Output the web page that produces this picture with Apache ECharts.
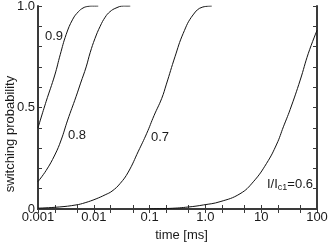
<!DOCTYPE html>
<html>
<head>
<meta charset="utf-8">
<script src="https://cdn.jsdelivr.net/npm/echarts@6/dist/echarts.min.js"></script>
<style>
html,body{margin:0;padding:0;background:#fff;}
#c{width:333px;height:244px;}
</style>
</head>
<body>
<div id="c"></div>
<script>
// ---- data ----
const t09 = [0.001, 0.0014, 0.002, 0.0025, 0.0032, 0.0042, 0.0053, 0.0064, 0.0078, 0.0095, 0.012];
const p09 = [0.40, 0.53, 0.66, 0.76, 0.86, 0.935, 0.972, 0.99, 0.998, 1.0, 1.0];

const t08 = [0.001, 0.0014, 0.002, 0.0026, 0.0034, 0.0048, 0.0058, 0.0073, 0.0086, 0.0105, 0.013, 0.016, 0.0195, 0.025, 0.034, 0.045];
const p08 = [0.135, 0.19, 0.266, 0.34, 0.438, 0.553, 0.62, 0.70, 0.77, 0.84, 0.90, 0.945, 0.972, 0.99, 1.0, 1.0];

const t07 = [0.001, 0.0024, 0.0048, 0.007, 0.011, 0.016, 0.0212, 0.0295, 0.0415, 0.063, 0.089, 0.12, 0.165, 0.2, 0.285, 0.4, 0.6, 0.9, 1.3];
const p07 = [0.004, 0.01, 0.02, 0.031, 0.05, 0.07, 0.088, 0.125, 0.182, 0.285, 0.373, 0.46, 0.545, 0.615, 0.75, 0.865, 0.956, 0.995, 1.0];

const t06 = [0.1, 0.23, 0.5, 0.92, 1.83, 4.17, 7.22, 12.5, 19, 25, 33, 50, 70, 100];
const p06 = [0.001, 0.003, 0.01, 0.02, 0.036, 0.075, 0.134, 0.225, 0.32, 0.405, 0.49, 0.635, 0.767, 0.88];

const curveNames = ['0.9', '0.8', '0.7', 'I/I{sub|c1}=0.6'];
const xTickLabels = {0.001: '0.001', 0.01: '0.01', 0.1: '0.1', 1: '1.0', 10: '10', 100: '100'};
const xLabelValues = [0.001, 0.01, 0.1, 1, 10, 100];
const xMinorValues = [0.001,0.002,0.005,0.01,0.02,0.05,0.1,0.2,0.5,1,2,5,10,20,50,100];
const yTickLabels = {0: '0', 0.5: '0.5', 1: '1.0'};

// label anchor positions (data space)
const labelAnchors = [[0.00194, 0.852], [0.0050, 0.36], [0.1536, 0.355], [32.8, 0.123]];

const FONT = 'Liberation Sans, Arial, sans-serif';
const TXT = '#1a1a1a';

function pairs(t, p) { return t.map((v, i) => [v, p[i]]); }
const curves = [pairs(t09, p09), pairs(t08, p08), pairs(t07, p07), pairs(t06, p06)];

const chart = echarts.init(document.getElementById('c'), null, {renderer: 'canvas'});

const axisLine = {show: true, lineStyle: {color: '#3a3a3a', width: 2}};
const tick = {show: true, inside: true, length: 4, lineStyle: {color: '#3a3a3a', width: 1}};

const series = curves.map((d, i) => ({
  type: 'line',
  data: d,
  showSymbol: false,
  symbol: 'none',
  smooth: 0.45,
  lineStyle: {color: '#111', width: 1},
  silent: true,
  markPoint: {
    symbol: 'circle',
    symbolSize: 0,
    silent: true,
    label: {
      show: true,
      position: 'inside',
      formatter: curveNames[i],
      color: TXT,
      fontFamily: FONT,
      fontSize: 13,
      rich: {sub: {fontSize: 9, verticalAlign: 'bottom', padding: [6, 0, 0, 0], color: TXT, fontFamily: FONT}}
    },
    data: [{coord: labelAnchors[i], value: ''}]
  }
}));

chart.setOption({
  animation: false,
  backgroundColor: '#fff',
  grid: {left: 38, right: 16, top: 6, bottom: 35, containLabel: false, outerBoundsMode: 'none'},
  xAxis: [
    {
      type: 'log', logBase: 10, min: 0.001, max: 100, position: 'bottom',
      axisLine: axisLine,
      axisTick: Object.assign({}, tick, {customValues: xMinorValues}),
      axisLabel: {
        customValues: xLabelValues,
        margin: 2, color: TXT, fontFamily: FONT, fontSize: 13,
        formatter: v => { for (const k of xLabelValues) { if (Math.abs(v - k) / k < 1e-6) return xTickLabels[k]; } return ''; }
      },
      splitLine: {show: false},
      name: 'time [ms]', nameLocation: 'middle', nameGap: 20,
      nameTextStyle: {color: TXT, fontFamily: FONT, fontSize: 13, padding: [0, 0, 0, 8]}
    },
    {
      type: 'log', logBase: 10, min: 0.001, max: 100, position: 'top',
      axisLine: axisLine,
      axisTick: Object.assign({}, tick, {customValues: xMinorValues}),
      axisLabel: {show: false},
      splitLine: {show: false}
    }
  ],
  yAxis: [
    {
      type: 'value', min: 0, max: 1, interval: 0.1, position: 'left',
      axisLine: axisLine, axisTick: tick,
      axisLabel: {
        margin: 3, color: TXT, fontFamily: FONT, fontSize: 13,
        formatter: v => { for (const k of [0, 0.5, 1]) { if (Math.abs(v - k) < 1e-6) return yTickLabels[k]; } return ''; }
      },
      splitLine: {show: false}
    },
    {
      type: 'value', min: 0, max: 1, interval: 0.1, position: 'right',
      axisLine: axisLine, axisTick: tick,
      axisLabel: {show: false},
      splitLine: {show: false}
    }
  ],
  graphic: [{
    type: 'text', x: 10, y: 134, rotation: Math.PI / 2,
    style: {text: 'switching probability', fill: TXT, font: '13px ' + FONT, align: 'center', verticalAlign: 'middle'}
  }],
  series: series
});
</script>
</body>
</html>
